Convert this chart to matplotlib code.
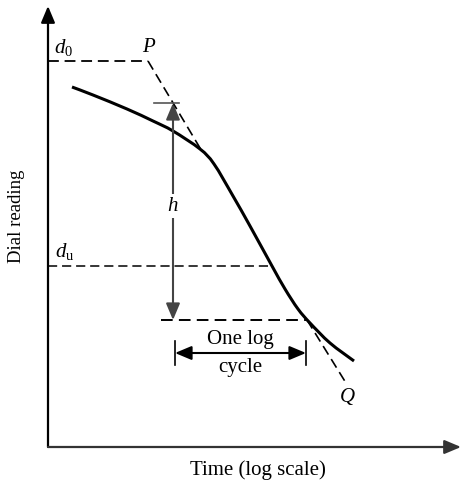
import matplotlib
matplotlib.use("Agg")
import matplotlib.pyplot as plt
from matplotlib.patches import FancyArrowPatch, PathPatch
from matplotlib.path import Path

plt.rcParams['font.family'] = ['Liberation Serif', 'DejaVu Serif']
plt.rcParams['mathtext.fontset'] = 'custom'
plt.rcParams['mathtext.rm'] = 'Liberation Serif'
plt.rcParams['mathtext.it'] = 'Liberation Serif:italic'

# ---- data (schematic in figure units) ----
curve_x = [72, 93, 127, 153, 173, 200, 214, 233, 250, 272, 285, 298, 310, 330, 354]
curve_y = [88, 96, 110, 122, 132, 150, 165, 197, 227, 267, 290, 310, 324, 344, 362]

axis_origin = (48, 448)
axis_x_end = 461
axis_y_end = 7

d0_level = 62
p_x = 148
tangent_p_end = (203, 154)
du_level = 267
du_end_x = 273
d100_level = 321
d100_x = (161, 307)
tangent_q_end = (346, 384)
h_x = 173
h_top = 104
cycle_y = 354
cycle_x = (175, 306)

labels = {
    'd0': (64, 47, r'$d_0$'),
    'P': (149, 48, r'$P$'),
    'du': (65, 252, r'$d_\mathrm{u}$'),
    'h': (173, 207, r'$h$'),
    'Q': (347, 397, r'$Q$'),
}

fig = plt.figure(figsize=(4.62, 4.85), dpi=100)
ax = fig.add_axes([0, 0, 1, 1])
ax.set_xlim(0, 462)
ax.set_ylim(485, 0)
ax.axis('off')

axis_color = '#333333'
dash = (6.0, 3.2)


def smooth_path(xs, ys):
    # Catmull-Rom rendering through the read points (Bezier segments)
    pts = list(zip(xs, ys))
    verts = [pts[0]]
    codes = [Path.MOVETO]
    n = len(pts)
    for i in range(n - 1):
        p0 = pts[i - 1] if i > 0 else pts[i]
        p1 = pts[i]
        p2 = pts[i + 1]
        p3 = pts[i + 2] if i + 2 < n else pts[i + 1]
        c1 = (p1[0] + (p2[0] - p0[0]) / 6.0, p1[1] + (p2[1] - p0[1]) / 6.0)
        c2 = (p2[0] - (p3[0] - p1[0]) / 6.0, p2[1] - (p3[1] - p1[1]) / 6.0)
        verts += [c1, c2, p2]
        codes += [Path.CURVE4] * 3
    return Path(verts, codes)


# axes arrows
ax.add_patch(FancyArrowPatch(axis_origin, (axis_origin[0], axis_y_end),
                             arrowstyle='-|>,head_length=1.0,head_width=0.42',
                             mutation_scale=10, lw=1.6, color='black',
                             shrinkA=0, shrinkB=0))
ax.add_patch(FancyArrowPatch(axis_origin, (axis_x_end, axis_origin[1]),
                             arrowstyle='-|>,head_length=1.0,head_width=0.42',
                             mutation_scale=10, lw=1.6, color=axis_color,
                             shrinkA=0, shrinkB=0))

# dashed reference lines
l, = ax.plot([axis_origin[0], p_x], [d0_level, d0_level], color='black', lw=1.3)
l.set_dashes(dash)
l, = ax.plot([p_x, tangent_p_end[0]], [d0_level, tangent_p_end[1]], color='black', lw=1.2)
l.set_dashes(dash)
l, = ax.plot([axis_origin[0], du_end_x], [du_level, du_level], color='black', lw=1.1)
l.set_dashes(dash)
l, = ax.plot([d100_x[0], d100_x[1]], [d100_level, d100_level], color='black', lw=1.4)
l.set_dashes(dash)
l, = ax.plot([d100_x[1], tangent_q_end[0]], [d100_level, tangent_q_end[1]], color='black', lw=1.2)
l.set_dashes(dash)

# consolidation curve
ax.add_patch(PathPatch(smooth_path(curve_x, curve_y), facecolor='none',
                       edgecolor='black', lw=2.2, capstyle='butt'))

# h double arrow
ax.plot([154, 179], [h_top, h_top], color='#555555', lw=1.2)
ax.add_patch(FancyArrowPatch((h_x, d100_level), (h_x, h_top),
                             arrowstyle='<|-|>,head_length=1.0,head_width=0.42',
                             mutation_scale=10, lw=1.5, color='#444444',
                             shrinkA=0, shrinkB=0))

# one log cycle arrow
for cx in cycle_x:
    ax.plot([cx, cx], [cycle_y - 12, cycle_y + 12], color='black', lw=1.2)
ax.add_patch(FancyArrowPatch((cycle_x[0], cycle_y), (cycle_x[1], cycle_y),
                             arrowstyle='<|-|>,head_length=1.0,head_width=0.42',
                             mutation_scale=10, lw=1.5, color='black',
                             shrinkA=0, shrinkB=0))

# labels
fs = 15
for key, (x, y, s) in labels.items():
    kw = {}
    if key == 'h':
        kw['bbox'] = dict(facecolor='white', edgecolor='none', pad=2)
    ax.text(x, y, s, ha='center', va='center', fontsize=fs, **kw)

ax.text(240, 340, 'One log', ha='center', va='center', fontsize=fs)
ax.text(240, 368, 'cycle', ha='center', va='center', fontsize=fs)
ax.text(258, 470, 'Time (log scale)', ha='center', va='center', fontsize=fs)
ax.text(17, 216, 'Dial reading', ha='center', va='center', rotation=90, fontsize=13.5)

fig.savefig('out.png', dpi=100)
